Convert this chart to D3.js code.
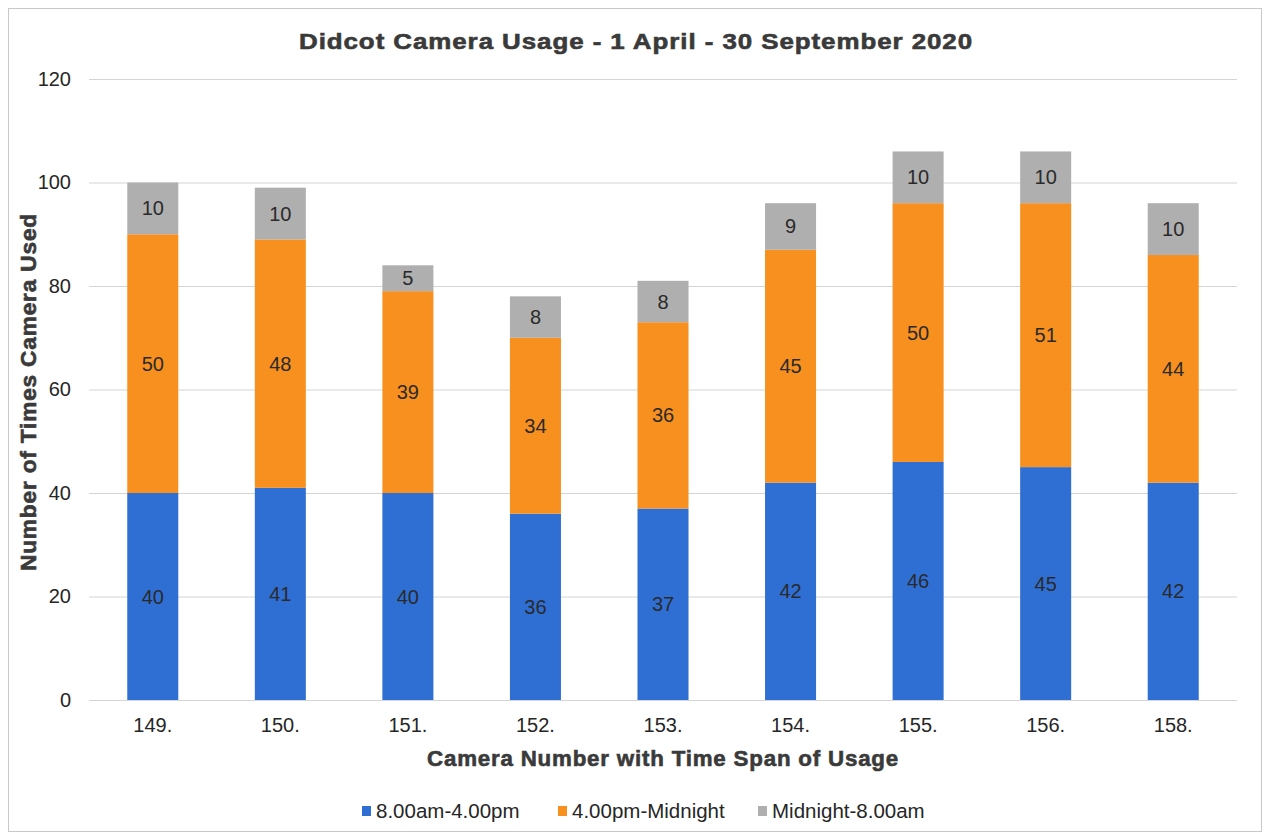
<!DOCTYPE html>
<html>
<head>
<meta charset="utf-8">
<script src="https://cdn.jsdelivr.net/npm/d3@7"></script>
<style>
  html, body { margin: 0; padding: 0; background: #fff; }
  svg { display: block; font-family: "Liberation Sans", Arial, sans-serif; }
</style>
</head>
<body>
<svg id="chart" width="1269" height="835"></svg>
<script>
// Camera numbers on the x axis
const cameras = ["149.", "150.", "151.", "152.", "153.", "154.", "155.", "156.", "158."];
// Usage counts per time span
const dayValues     = [40, 41, 40, 36, 37, 42, 46, 45, 42];
const eveningValues = [50, 48, 39, 34, 36, 45, 50, 51, 44];
const nightValues   = [10, 10, 5, 8, 8, 9, 10, 10, 10];
const seriesNames   = ["8.00am-4.00pm", "4.00pm-Midnight", "Midnight-8.00am"];
const seriesColors  = ["#2f6fd3", "#f7901e", "#afafaf"];
const yTicks        = [0, 20, 40, 60, 80, 100, 120];

const svg = d3.select("#chart");
const W = 1269, H = 835;
const margin = { left: 89, right: 32, top: 79, bottom: 135 };
const textColor = "#262626";
const titleColor = "#3a3a3a";

// outer chart frame
svg.append("rect")
  .attr("x", 8.5).attr("y", 8.5)
  .attr("width", W - 16).attr("height", H - 12)
  .attr("fill", "#fff").attr("stroke", "#c8c8c8").attr("stroke-width", 1);

const x = d3.scaleBand()
  .domain(cameras)
  .range([margin.left, W - margin.right])
  .paddingInner(0.6)
  .paddingOuter(0.3);

const y = d3.scaleLinear()
  .domain([0, 120])
  .range([H - margin.bottom, margin.top]);

// gridlines
svg.append("g")
  .selectAll("line")
  .data(yTicks)
  .join("line")
  .attr("x1", margin.left).attr("x2", W - margin.right)
  .attr("y1", d => y(d) + 0.5).attr("y2", d => y(d) + 0.5)
  .attr("stroke", "#d4d4d4").attr("stroke-width", 1);

// y axis labels
const yAxis = d3.axisLeft(y).tickValues(yTicks).tickSize(0).tickPadding(18);
const gy = svg.append("g")
  .attr("transform", `translate(${margin.left},0)`)
  .call(yAxis);
gy.select(".domain").remove();
gy.selectAll("text").attr("font-size", 20).attr("fill", textColor)
  .attr("font-family", "Liberation Sans, Arial, sans-serif");

// x axis labels
const xAxis = d3.axisBottom(x).tickSize(0).tickPadding(18);
const gx = svg.append("g")
  .attr("transform", `translate(0,${y(0)})`)
  .call(xAxis);
gx.select(".domain").remove();
gx.selectAll("text").attr("font-size", 20).attr("fill", textColor)
  .attr("font-family", "Liberation Sans, Arial, sans-serif");

// stacked data
const rows = cameras.map((c, i) => ({
  camera: c,
  [seriesNames[0]]: dayValues[i],
  [seriesNames[1]]: eveningValues[i],
  [seriesNames[2]]: nightValues[i]
}));
const stacked = d3.stack().keys(seriesNames)(rows);

const layers = svg.append("g")
  .selectAll("g")
  .data(stacked)
  .join("g")
  .attr("fill", (d, i) => seriesColors[i]);

layers.selectAll("rect")
  .data(d => d)
  .join("rect")
  .attr("x", d => x(d.data.camera))
  .attr("width", x.bandwidth())
  .attr("y", d => y(d[1]))
  .attr("height", d => y(d[0]) - y(d[1]));

// value labels centred in each segment
layers.selectAll("text")
  .data(d => d.map(p => ({ p, key: d.key })))
  .join("text")
  .attr("x", d => x(d.p.data.camera) + x.bandwidth() / 2)
  .attr("y", d => (y(d.p[0]) + y(d.p[1])) / 2)
  .attr("dy", "0.35em")
  .attr("text-anchor", "middle")
  .attr("font-size", 20)
  .attr("fill", "#2a2a2a")
  .text(d => d.p.data[d.key]);

// heavy, wide bold text used for the titles
function boldTitle(sel, width) {
  return sel
    .attr("text-anchor", "middle")
    .attr("font-size", 22).attr("font-weight", "bold")
    .attr("letter-spacing", 0.8)
    .attr("fill", titleColor)
    .attr("stroke", titleColor).attr("stroke-width", 0.6)
    .attr("textLength", width).attr("lengthAdjust", "spacingAndGlyphs");
}

// chart title
svg.append("text")
  .attr("x", 636).attr("y", 49)
  .call(boldTitle, 674)
  .text("Didcot Camera Usage - 1 April - 30 September 2020");

// axis titles
svg.append("text")
  .attr("transform", `translate(36,392) rotate(-90)`)
  .call(boldTitle, 358)
  .text("Number of Times Camera Used");

svg.append("text")
  .attr("x", 663).attr("y", 766)
  .call(boldTitle, 472)
  .text("Camera Number with Time Span of Usage");

// legend
const legendX = [362, 558, 758];
const legend = svg.append("g")
  .selectAll("g")
  .data(seriesNames)
  .join("g")
  .attr("transform", (d, i) => `translate(${legendX[i]},811)`);
legend.append("rect")
  .attr("x", 0).attr("y", -5).attr("width", 9).attr("height", 10)
  .attr("fill", (d, i) => seriesColors[i]);
legend.append("text")
  .attr("x", 14).attr("dy", "0.35em")
  .attr("font-size", 20.5).attr("fill", textColor)
  .text(d => d);
</script>
</body>
</html>
